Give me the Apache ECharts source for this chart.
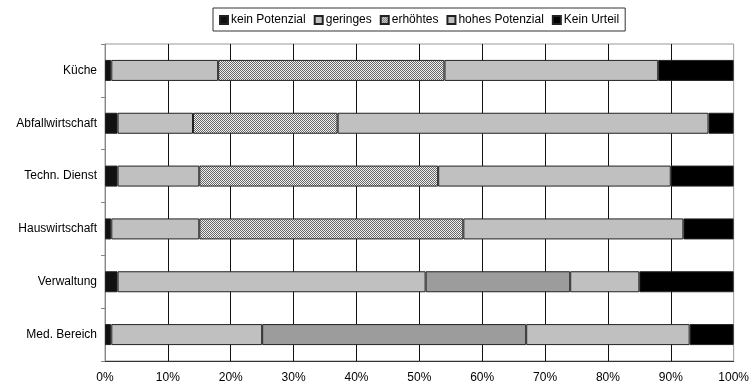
<!DOCTYPE html>
<html>
<head>
<meta charset="utf-8">
<script src="https://cdn.jsdelivr.net/npm/echarts@6/dist/echarts.min.js"></script>
<style>
  html, body { margin: 0; padding: 0; background: #fff; }
  #chart { width: 752px; height: 388px; }
</style>
</head>
<body>
<div id="chart"></div>
<script>
// Bereiche (von oben nach unten)
const categories = ['Küche', 'Abfallwirtschaft', 'Techn. Dienst', 'Hauswirtschaft', 'Verwaltung', 'Med. Bereich'];

// Anteile in Prozent je Bereich
const keinPotenzial = [1, 2, 2, 1, 2, 1];
const geringes      = [17, 12, 13, 14, 49, 24];
const erhoehtes     = [36, 23, 38, 42, 23, 42];
const hohesPotenzial = [34, 59, 37, 35, 11, 26];
const keinUrteil    = [12, 4, 10, 8, 15, 7];

// Bereiche, deren "erhöhtes"-Segment flächig statt schraffiert gezeichnet wird
const solidErhoehtes = ['Verwaltung', 'Med. Bereich'];

const xTicks = [0, 10, 20, 30, 40, 50, 60, 70, 80, 90, 100];

// feines Schachbrettmuster für die Schraffur
function makeHatch() {
  const c = document.createElement('canvas');
  c.width = 2; c.height = 2;
  const g = c.getContext('2d');
  g.fillStyle = '#f2f2f2';
  g.fillRect(0, 0, 2, 2);
  g.fillStyle = '#666666';
  g.fillRect(0, 0, 1, 1);
  g.fillRect(1, 1, 1, 1);
  return c;
}
const hatch = { image: makeHatch(), repeat: 'repeat' };

const FONT = 'Liberation Sans, Arial, sans-serif';
const border = { borderColor: '#222', borderWidth: 1 };

function seriesOf(name, values, color, perItem) {
  return {
    name: name,
    type: 'bar',
    stack: 'total',
    barWidth: 21,
    itemStyle: Object.assign({ color: color }, border),
    emphasis: { disabled: true },
    data: values.map((v, i) => perItem ? perItem(v, i) : v)
  };
}

const chart = echarts.init(document.getElementById('chart'), null, { renderer: 'canvas' });

chart.setOption({
  animation: false,
  backgroundColor: '#fff',
  textStyle: { fontFamily: FONT },
  legend: {
    left: 213,
    top: 8,
    padding: [6, 6, 5, 6],
    borderColor: '#333',
    borderWidth: 1,
    itemWidth: 8,
    itemHeight: 8,
    itemGap: 8,
    icon: 'rect',
    textStyle: { fontFamily: FONT, fontSize: 12, color: '#000', padding: [0, 0, 0, -2] },
    data: ['kein Potenzial', 'geringes', 'erhöhtes', 'hohes Potenzial', 'Kein Urteil']
  },
  grid: {
    left: 105,
    right: 16,
    top: 44,
    bottom: 27,
    show: true,
    borderColor: '#999',
    borderWidth: 1
  },
  xAxis: {
    type: 'value',
    min: xTicks[0],
    max: xTicks[xTicks.length - 1],
    interval: xTicks[1] - xTicks[0],
    axisLine: { show: true, lineStyle: { color: '#333', width: 1 } },
    axisTick: { show: false },
    axisLabel: {
      margin: 11,
      fontFamily: FONT,
      fontSize: 12,
      color: '#000',
      formatter: v => v + '%'
    },
    splitLine: {
      show: true,
      showMinLine: false,
      showMaxLine: false,
      lineStyle: { color: '#111', width: 1 }
    }
  },
  yAxis: {
    type: 'category',
    inverse: true,
    data: categories,
    axisLine: { show: true, lineStyle: { color: '#888', width: 1 } },
    axisTick: { show: true, length: 4, lineStyle: { color: '#888' } },
    axisLabel: { margin: 8, fontFamily: FONT, fontSize: 12, color: '#000' },
    splitLine: { show: false }
  },
  series: [
    seriesOf('kein Potenzial', keinPotenzial, '#111111'),
    seriesOf('geringes', geringes, '#c0c0c0'),
    seriesOf('erhöhtes', erhoehtes, hatch, (v, i) =>
      solidErhoehtes.includes(categories[i])
        ? { value: v, itemStyle: { color: '#9c9c9c' } }
        : v),
    seriesOf('hohes Potenzial', hohesPotenzial, '#c0c0c0'),
    seriesOf('Kein Urteil', keinUrteil, '#000000')
  ]
});
</script>
</body>
</html>
